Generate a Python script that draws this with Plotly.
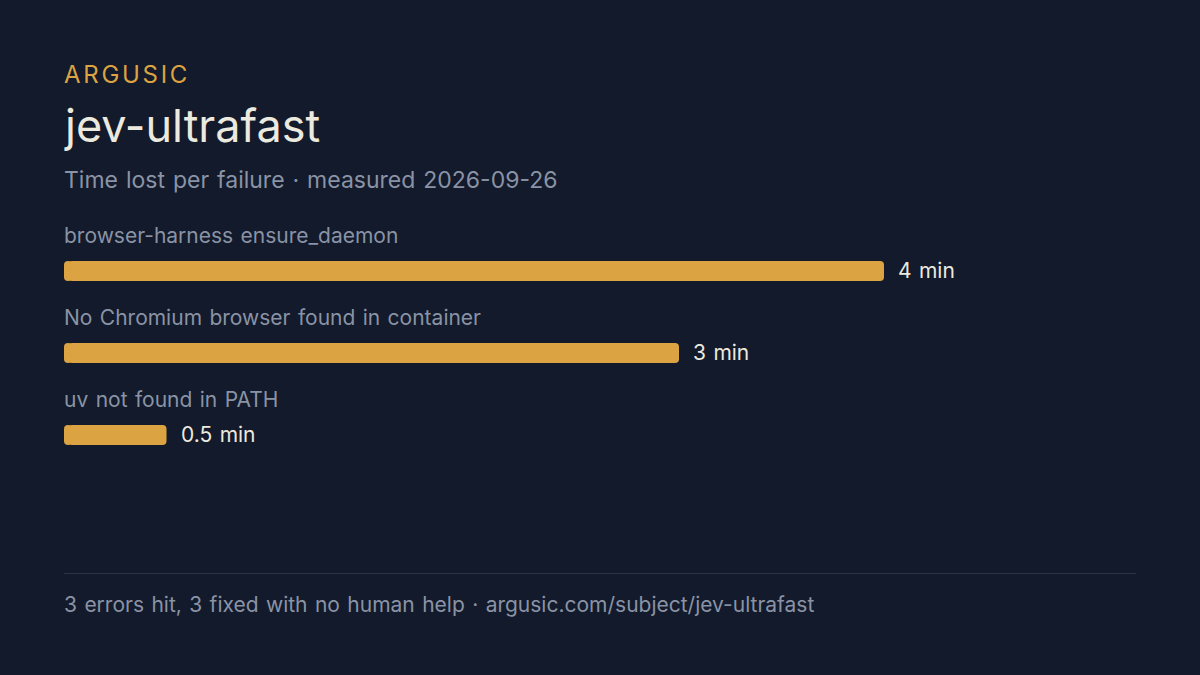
import plotly.graph_objects as go

categories = ["browser-harness ensure_daemon", "No Chromium browser found in container", "uv not found in PATH"]
values = [4, 3, 0.5]
value_labels = ["4 min", "3 min", "0.5 min"]
eyebrow = "ARGUSIC"
title = "jev-ultrafast"
subtitle = "Time lost per failure · measured 2026-09-26"
footer = "3 errors hit, 3 fixed with no human help · argusic.com/subject/jev-ultrafast"

BG = "#121a2b"
GOLD = "#dba342"
INK = "#ece9df"
MUTED = "#8a93a5"
FONT = "Inter"
BAR_WIDTH = 0.244
CAP = 0.04  # axis units: short rounded piece that gives each bar its rounded left end

ys = list(range(len(categories)))
fig = go.Figure()
fig.add_trace(go.Bar(
    x=[v - CAP / 2 for v in values], base=[CAP / 2] * len(values), y=ys, orientation="h", width=BAR_WIDTH,
    marker=dict(color=GOLD, line=dict(width=0), cornerradius=4),
    cliponaxis=False, hoverinfo="skip", showlegend=False,
))
fig.add_trace(go.Bar(
    x=[-CAP] * len(values), base=[CAP] * len(values), y=ys, orientation="h", width=BAR_WIDTH,
    marker=dict(color=GOLD, line=dict(width=0), cornerradius=4),
    cliponaxis=False, hoverinfo="skip", showlegend=False,
))
for c, y, v, lab in zip(categories, ys, values, value_labels):
    fig.add_annotation(x=0, y=y - 0.43, xref="x", yref="y", text=c, showarrow=False,
                       xanchor="left", yanchor="middle", align="left", xshift=-1, borderpad=0,
                       font=dict(family=FONT, size=21, color=MUTED))
    fig.add_annotation(x=v, y=y, xref="x", yref="y", text=lab, showarrow=False,
                       xanchor="left", yanchor="middle", align="left", xshift=12, yshift=1,
                       font=dict(family=FONT, size=21, color=INK))


def t(x, y, text, size, color):
    fig.add_annotation(x=x, y=y, xref="paper", yref="paper", text=text, showarrow=False,
                       xanchor="left", yanchor="middle", align="left",
                       font=dict(family=FONT, size=size, color=color))


fig.update_layout(
    width=1200, height=675, paper_bgcolor=BG, plot_bgcolor=BG,
    margin=dict(l=0, r=0, t=0, b=0), barmode="overlay",
    xaxis=dict(domain=[64 / 1200, 884 / 1200], range=[0, 4], visible=False, fixedrange=True),
    yaxis=dict(domain=[1 - 476 / 675, 1 - 230 / 675], range=[2.5, -0.5], visible=False, fixedrange=True),
    shapes=[dict(type="line", xref="paper", yref="paper", x0=64 / 1200, x1=1136 / 1200,
                 y0=1 - 573.5 / 675, y1=1 - 573.5 / 675, line=dict(color="#2b3344", width=1))],
)
t(62 / 1200, 1 - 74 / 675, eyebrow, 24, GOLD)
t(62 / 1200, 1 - 126 / 675, title, 45, INK)
t(62 / 1200, 1 - 180 / 675, subtitle, 23, MUTED)
t(62 / 1200, 1 - 604 / 675, footer, 21, MUTED)

post = """
document.documentElement.style.background = '#121a2b';
document.body.style.margin = '0';
document.body.style.background = '#121a2b';
document.querySelectorAll('.annotation-text').forEach(function (el) {
  if (el.textContent === 'ARGUSIC') { el.style.letterSpacing = '2.7px'; }
  else if (el.textContent !== 'jev-ultrafast') { el.style.wordSpacing = '1.5px'; }
});
"""
fig.write_html("out.html", config=dict(displayModeBar=False), post_script=post)
